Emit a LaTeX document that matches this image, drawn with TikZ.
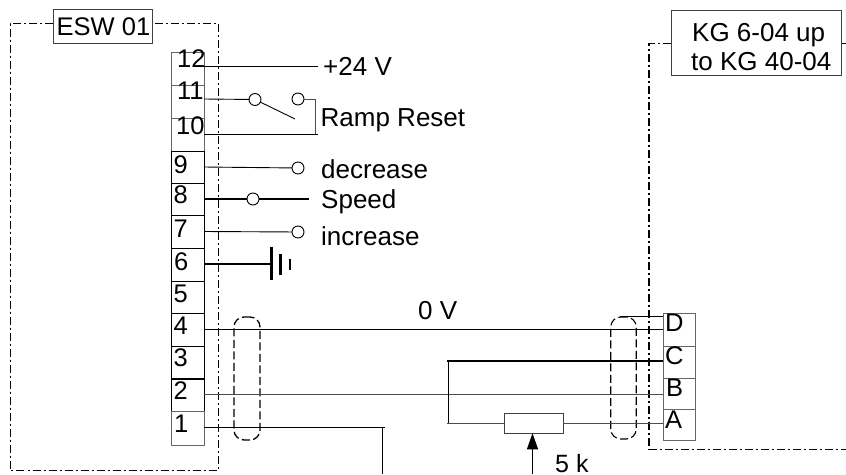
\documentclass[tikz,border=0pt]{standalone}
\usepackage{fontspec}
\setmainfont{Liberation Sans}
\usetikzlibrary{arrows.meta}
\tikzset{
 x=1pt,y=-1pt,
 txt/.style={font=\fontsize{26}{30}\selectfont,inner sep=0pt,anchor=base west},
 num/.style={font=\fontsize{25.5}{30}\selectfont,inner sep=0pt,anchor=base west},
 termbox/.style={draw=black,line width=1pt,minimum width=32.5pt,inner sep=0pt,outer sep=0pt},
 termgray/.style={termbox,draw=black!60},
 wire/.style={line width=0.9pt,black},
 thick wire/.style={line width=1.9pt,black},
 contact/.style={circle,draw=black,fill=white,line width=0.9pt,minimum size=12pt,inner sep=0pt,outer sep=0pt},
 frame/.style={line width=0.9pt,dash pattern=on 8pt off 3pt on 2pt off 3pt},
 title/.style={draw=black!75,fill=white,line width=1pt,inner sep=0pt,outer sep=0pt},
 shield/.style={dash pattern=on 8pt off 3.5pt,rounded corners=10pt},
}
\begin{document}
\begin{tikzpicture}
\useasboundingbox (0,0) rectangle (846,474);
% frames
\coordinate (fa) at (53,23.5);
\coordinate (fb) at (10,23.5);
\coordinate (fc) at (10,470);
\coordinate (fd) at (218.5,470);
\coordinate (fe) at (218.5,23.5);
\coordinate (ff) at (152,23.5);
\draw[frame] (fa) -- (fb) -- (fc) -- (fd) -- (fe) -- (ff);
\coordinate (ga) at (671,43.5);
\coordinate (gb) at (649,43.5);
\coordinate (gc) at (649,449);
\coordinate (gd) at (846,449);
\coordinate (ge) at (846,43.5);
\coordinate (gf) at (842,43.5);
\draw[frame,line width=1.3pt] (ga) -- (gb) -- (gc);
\draw[frame] (gc) -- (gd);
\draw[line width=1.3pt] (gf) -- (ge);
\node[title,minimum width=99pt,minimum height=34pt] (esw) at (102.5,26) {};
\node[txt,font=\fontsize{25.5}{30}\selectfont] (eswt) at (56.5,35) {ESW 01};
\node[title,minimum width=170.5pt,minimum height=65pt] (kg) at (756.5,42.5) {};
\node[txt] (kg1) at (692,41) {KG 6-04 up};
\node[txt] (kg2) at (691,70) {to KG 40-04};
% left terminal block
\node[termgray,minimum height=33pt] (t12) at (188,68.5) {};
\node[termgray,minimum height=33pt] (t11) at (188,101.5) {};
\node[termgray,minimum height=33pt] (t10) at (188,134.5) {};
\node[termbox,minimum height=32pt] (t9) at (188,167) {};
\node[termbox,minimum height=32pt] (t8) at (188,199) {};
\node[termbox,minimum height=33pt] (t7) at (188,231.5) {};
\node[termbox,minimum height=33pt] (t6) at (188,264.5) {};
\node[termbox,minimum height=32pt] (t5) at (188,297) {};
\node[termbox,minimum height=33pt] (t4) at (188,329.5) {};
\node[termbox,minimum height=33pt] (t3) at (188,362.5) {};
\node[termbox,minimum height=32.5pt] (t2) at (188,395) {};
\node[termgray,minimum height=33.5pt] (t1) at (188,428.5) {};
\node[num] (n12) at (177,67) {12};
\node[num] (n11) at (177,99.5) {11};
\node[num] (n10) at (176,134) {10};
\node[num] (n9) at (173.5,173) {9};
\node[num] (n8) at (173.5,203) {8};
\node[num] (n7) at (173.5,237) {7};
\node[num] (n6) at (174,270) {6};
\node[num] (n5) at (173.5,302) {5};
\node[num] (n4) at (173.5,334) {4};
\node[num] (n3) at (173.5,366) {3};
\node[num] (n2) at (173.5,399) {2};
\node[num] (n1) at (174,432) {1};
% right terminal block
\node[termgray,minimum height=33pt] (tD) at (679.5,329.5) {};
\node[termgray,minimum height=32pt] (tC) at (679.5,362) {};
\node[termgray,minimum height=31pt] (tB) at (679.5,393.5) {};
\node[termgray,minimum height=31pt] (tA) at (679.5,424.5) {};
\node[num] (nD) at (665,331) {D};
\node[num] (nC) at (665,364) {C};
\node[num] (nB) at (666,396) {B};
\node[num] (nA) at (665,428) {A};
% wires to switch etc.
\coordinate (w12) at (204,66.5); \coordinate (e12) at (318,66.5);
\draw[wire] (w12) -- (e12);
\node[txt] (lv) at (323,75) {+24 V};
\coordinate (w11) at (204,99);
\node[contact] (c1) at (255,99.5) {};
\node[contact] (c2) at (298,99) {};
\draw[wire] (w11) -- (c1);
\coordinate (k1) at (315.5,99); \coordinate (w10) at (204,134.5); \coordinate (e10) at (318,134.5);
\coordinate (k2) at (315.5,134.5);
\draw[wire,black!70] (c2) -- (k1) -- (k2);
\draw[thick wire] (w10) -- (e10);
\coordinate (bl) at (295,119);
\draw[wire] (c1) -- (bl);
\node[txt] (lr) at (320.5,126) {Ramp Reset};
\coordinate (w9) at (204,167);
\node[contact] (c9) at (298,168) {};
\draw[wire] (w9) -- (c9);
\node[txt] (ld) at (321,178) {decrease};
\coordinate (w8) at (204,199); \coordinate (e8) at (309,199);
\draw[thick wire] (w8) -- (e8);
\node[contact] (c8) at (253,199) {};
\node[txt] (ls) at (321,208) {Speed};
\coordinate (w7) at (204,231.5);
\node[contact] (c7) at (298,232) {};
\draw[wire] (w7) -- (c7);
\node[txt] (li) at (321,245) {increase};
\coordinate (w6) at (204,264); \coordinate (g1) at (271.5,264);
\draw[thick wire] (w6) -- (g1);
\draw[line width=3pt] (271.5,247) -- (271.5,280);
\draw[line width=3pt] (280.5,254) -- (280.5,275);
\draw[line width=2pt] (290,259) -- (290,270);
% shields
\node[draw,shield,line width=1.3pt,minimum width=26pt,minimum height=123pt,inner sep=0pt] (s1) at (247,378.5) {};
\node[draw,shield,line width=1.1pt,minimum width=25.5pt,minimum height=122pt,inner sep=0pt] (s2) at (623.5,378) {};
% lower wires
\coordinate (w4) at (204,329);
\coordinate (eD) at (663,329);
\draw[wire] (w4) -- (eD);
\coordinate (sD) at (620,316.5); \coordinate (eD2) at (663,316.5);
\draw[line width=1.4pt] (sD) -- (eD2);
\node[txt] (l0) at (418,319) {0 V};
\coordinate (w2) at (204,394);
\coordinate (eB) at (663,394);
\draw[wire,black!70] (w2) -- (eB);
\coordinate (w1) at (204,427); \coordinate (j1) at (382.5,427); \coordinate (j2) at (382.5,474);
\draw[wire] (w1) -- (j1) -- (j2);
\coordinate (j3) at (385,427);
\draw[wire] (j1) -- (j3);
\coordinate (eC) at (663,361); \coordinate (jc) at (447,361);
\draw[thick wire] (eC) -- (jc);
\coordinate (jv) at (448,361); \coordinate (jw) at (448,423.5);
\draw[wire] (jv) -- (jw);
\node[draw=black!75,fill=white,line width=1pt,minimum width=59pt,minimum height=19.5pt,inner sep=0pt,outer sep=0pt] (res) at (533.5,423.5) {};
\coordinate (ja) at (447,423.5);
\draw[wire,black!70] (ja) -- (res.west);
\coordinate (eA) at (663,423.5);
\draw[wire,black!70] (res.east) -- (eA);
\coordinate (ar) at (532.5,474);
\draw[wire,-{Triangle[length=16pt,width=11pt]}] (ar) -- (ar |- res.south);
\node[txt,font=\fontsize{25}{30}\selectfont] (l5) at (555,472) {5 k};
\end{tikzpicture}
\end{document}
